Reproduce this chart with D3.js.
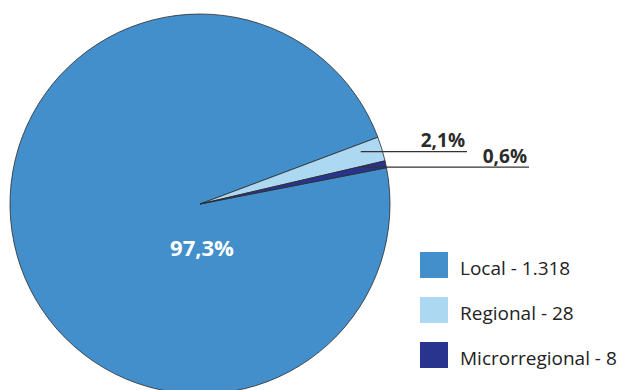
<!DOCTYPE html>
<html>
<head>
<meta charset="utf-8">
<script src="https://cdn.jsdelivr.net/npm/d3@7"></script>
<style>
  html, body { margin: 0; padding: 0; background: #fff; }
  svg { display: block; }
</style>
</head>
<body>
<svg id="chart" width="635" height="390"></svg>
<script>
// ---- data ----
const categories = ["Local", "Regional", "Microrregional"];
const values = [1318, 28, 8];
const valueLabels = ["1.318", "28", "8"];
const percentLabels = ["97,3%", "2,1%", "0,6%"];
const colors = ["#438fcb", "#acd8f1", "#28348e"];

// ---- layout ----
const W = 635, H = 390;
const cx = 200, cy = 204, R = 190;
const svg = d3.select("#chart");
const font = "'Open Sans', sans-serif";

const rad = d => d * Math.PI / 180;
// small slices end ~11° above the horizontal on the right
const localStart = rad(90 - 11);

const pie = d3.pie().sort(null).value(d => d)
  .startAngle(localStart)
  .endAngle(localStart + 2 * Math.PI);
const arcs = pie(values);
const arc = d3.arc().innerRadius(0).outerRadius(R);

const g = svg.append("g").attr("transform", `translate(${cx},${cy})`);
g.selectAll("path.slice").data(arcs).enter().append("path")
  .attr("class", "slice")
  .attr("d", arc)
  .attr("fill", (d, i) => colors[i])
  .attr("stroke", "#2b2b2b")
  .attr("stroke-width", 0.8)
  .attr("stroke-linejoin", "round");

// big slice label
g.append("text")
  .attr("x", 2).attr("y", 52)
  .attr("text-anchor", "middle")
  .attr("font-family", font).attr("font-weight", 700)
  .attr("font-size", 22).attr("fill", "#ffffff")
  .text(percentLabels[0]);

// small slice callouts
const callouts = [
  { i: 1, r: 0.95, xEnd: 467 },
  { i: 2, r: 0.93, xEnd: 529 }
];
callouts.forEach(c => {
  const a = arcs[c.i];
  const mid = (a.startAngle + a.endAngle) / 2;
  const x0 = cx + Math.sin(mid) * R * c.r;
  const y0 = cy - Math.cos(mid) * R * c.r;
  svg.append("line")
    .attr("x1", x0 - 12).attr("y1", y0).attr("x2", c.xEnd).attr("y2", y0)
    .attr("stroke", "#333").attr("stroke-width", 1.2);
  svg.append("text")
    .attr("x", c.xEnd - 2).attr("y", y0 - 4.5)
    .attr("text-anchor", "end")
    .attr("font-family", font).attr("font-weight", 700)
    .attr("font-size", 19).attr("fill", "#2b2b2b")
    .text(percentLabels[c.i]);
});

// legend
const legend = svg.append("g").attr("transform", "translate(420,252)");
const item = legend.selectAll("g").data(categories).enter().append("g")
  .attr("transform", (d, i) => `translate(0,${i * 45})`);
item.append("rect")
  .attr("width", 28).attr("height", 26)
  .attr("fill", (d, i) => colors[i]);
item.append("text")
  .attr("x", 40).attr("y", 23)
  .attr("font-family", font).attr("font-size", 19).attr("fill", "#222")
  .text((d, i) => `${d} - ${valueLabels[i]}`);
</script>
</body>
</html>
